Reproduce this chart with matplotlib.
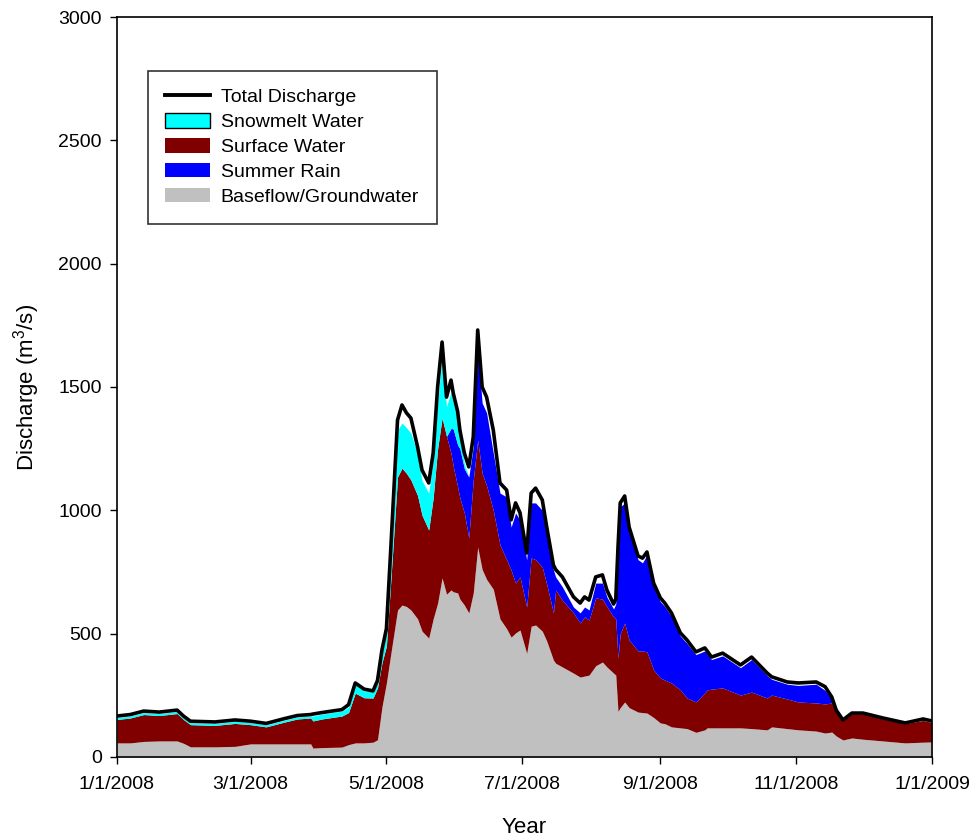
import matplotlib
matplotlib.use("Agg")
import matplotlib.pyplot as plt
from matplotlib.lines import Line2D
from matplotlib.patches import Patch
import numpy as np
import pandas as pd

plt.rcParams['font.family'] = ['Liberation Sans', 'DejaVu Sans']
plt.rcParams['mathtext.default'] = 'regular'

dates = ["2008-01-01","2008-01-07","2008-01-13","2008-01-20","2008-01-28","2008-01-31","2008-02-03","2008-02-14",
         "2008-02-23","2008-03-01","2008-03-08","2008-03-16","2008-03-22","2008-03-28","2008-03-29","2008-04-02",
         "2008-04-11","2008-04-14","2008-04-17","2008-04-21","2008-04-25","2008-04-27","2008-04-29","2008-05-01",
         "2008-05-03","2008-05-06","2008-05-08","2008-05-10","2008-05-12","2008-05-15","2008-05-17","2008-05-20",
         "2008-05-22","2008-05-24","2008-05-26","2008-05-28","2008-05-30","2008-05-31","2008-06-02","2008-06-03",
         "2008-06-05","2008-06-07","2008-06-09","2008-06-11","2008-06-13","2008-06-15","2008-06-18","2008-06-21",
         "2008-06-24","2008-06-26","2008-06-28","2008-06-30","2008-07-03","2008-07-05","2008-07-07","2008-07-10",
         "2008-07-12","2008-07-15","2008-07-16","2008-07-19","2008-07-24","2008-07-27","2008-07-29","2008-07-31",
         "2008-08-03","2008-08-06","2008-08-08","2008-08-11","2008-08-12","2008-08-13","2008-08-14","2008-08-16",
         "2008-08-18","2008-08-22","2008-08-24","2008-08-26","2008-08-29","2008-09-01","2008-09-03","2008-09-06",
         "2008-09-10","2008-09-13","2008-09-17","2008-09-21","2008-09-22","2008-09-24","2008-09-29","2008-10-07",
         "2008-10-12","2008-10-19","2008-10-21","2008-10-28","2008-11-02","2008-11-10","2008-11-14","2008-11-17",
         "2008-11-19","2008-11-22","2008-11-26","2008-12-01","2008-12-10","2008-12-20","2008-12-28","2009-01-01"]

total = [166,172,186,182,190,165,145,142,150,145,136,155,168,172,174,180,192,212,300,275,268,310,434,520,
         850,1366,1427,1395,1374,1257,1163,1111,1232,1500,1682,1459,1528,1476,1400,1325,1232,1176,1297,1731,
         1500,1459,1325,1111,1082,961,1030,990,827,1070,1090,1042,932,778,760,730,649,624,649,636,730,738,
         677,620,640,850,1030,1058,932,815,806,831,705,645,624,584,503,474,426,442,430,405,421,373,405,340,
         325,304,300,304,285,243,190,150,178,178,158,138,154,146]

baseflow = [57,57,63,65,65,55,41,41,43,53,53,53,53,53,36,38,40,50,57,57,60,70,203,300,
            420,596,616,610,596,560,510,482,560,624,726,660,677,670,665,640,616,584,665,851,
            760,720,680,560,520,486,503,515,420,530,535,510,470,393,380,365,340,324,328,332,370,385,
            365,340,332,185,200,223,200,182,180,178,160,138,135,122,118,115,100,110,118,118,118,118,115,110,
            122,115,110,105,97,101,85,69,77,72,65,57,60,61]

surface = [95,101,109,103,111,96,90,87,93,78,69,88,101,105,110,116,126,130,202,183,179,210,178,150,
           297,539,555,540,527,500,470,438,490,626,648,640,555,510,430,410,373,304,458,434,
           390,380,320,300,280,272,202,215,188,277,265,260,230,191,297,271,244,219,240,223,275,255,
           245,228,228,215,300,320,274,248,250,248,193,182,177,178,154,124,123,150,154,157,162,133,148,129,
           129,120,113,114,118,118,100,79,98,103,89,78,88,79]

rain = [0,0,0,0,0,0,0,0,0,0,0,0,0,0,0,0,0,0,0,0,0,0,0,0,
        0,0,0,0,0,0,0,0,0,0,0,0,100,150,170,200,180,247,134,365,
        285,295,232,210,254,174,284,231,191,223,230,230,208,174,53,54,24,41,40,41,60,65,
        39,32,60,430,514,487,436,370,357,393,337,310,298,270,218,221,192,170,148,120,130,111,132,91,
        64,60,67,76,55,16,0,0,0,0,0,0,0,0]

snowmelt = [8,8,8,8,8,8,8,8,8,8,8,8,8,8,20,20,20,22,33,28,26,20,39,60,
            113,190,183,185,190,170,140,150,150,185,248,120,148,110,105,50,20,0,0,0,
            0,0,0,0,0,0,0,0,0,0,0,0,0,0,0,0,0,0,0,0,0,0,
            0,0,0,0,0,0,0,0,0,0,0,0,0,0,0,0,0,0,0,0,0,0,0,0,
            0,0,0,0,0,0,0,0,0,0,0,0,0,0]

tick_dates = ["2008-01-01","2008-03-01","2008-05-01","2008-07-01","2008-09-01","2008-11-01","2009-01-01"]
tick_labels = ["1/1/2008","3/1/2008","5/1/2008","7/1/2008","9/1/2008","11/1/2008","1/1/2009"]
y_ticks = [0, 500, 1000, 1500, 2000, 2500, 3000]

series_names = ["Total Discharge", "Snowmelt Water", "Surface Water", "Summer Rain", "Baseflow/Groundwater"]
colors = {"snow": "#00FFFF", "surface": "#800000", "rain": "#0000FF", "base": "#C0C0C0"}

t = pd.to_datetime(dates)
b = np.array(baseflow, float)
s = np.array(surface, float)
r = np.array(rain, float)
m = np.array(snowmelt, float)

fig = plt.figure(figsize=(9.69, 8.38), dpi=100)
ax = fig.add_axes([0.1207, 0.0967, 0.8411, 0.8830])

l1 = b
l2 = l1 + s
l3 = l2 + r
l4 = l3 + m
ax.fill_between(t, 0, l1, color=colors["base"], linewidth=0)
ax.fill_between(t, l1, l2, color=colors["surface"], linewidth=0)
ax.fill_between(t, l2, l3, color=colors["rain"], linewidth=0)
ax.fill_between(t, l3, l4, color=colors["snow"], linewidth=0)
ax.plot(t, total, color="black", lw=2.6, solid_joinstyle="round")

ax.set_xlim(pd.Timestamp("2008-01-01"), pd.Timestamp("2009-01-01"))
ax.set_ylim(0, 3000)
ax.set_xticks(pd.to_datetime(tick_dates))
ax.set_xticklabels(tick_labels)
ax.set_yticks(y_ticks)
ax.tick_params(direction="out", length=5, width=1, labelsize=14, pad=6)
ax.tick_params(axis="x", pad=9)
for sp in ax.spines.values():
    sp.set_linewidth(1.2)

ax.set_xlabel("Year", fontsize=16, labelpad=17)
ax.set_ylabel("Discharge (m$^3$/s)", fontsize=16, labelpad=12)

handles = [Line2D([0], [0], color="black", lw=2.8),
           Patch(facecolor=colors["snow"], edgecolor="black", linewidth=1),
           Patch(facecolor=colors["surface"], edgecolor="none"),
           Patch(facecolor=colors["rain"], edgecolor="none"),
           Patch(facecolor=colors["base"], edgecolor="none")]
leg = ax.legend(handles, series_names, loc="upper left", bbox_to_anchor=(0.038, 0.927),
                borderaxespad=0, fontsize=14, frameon=True, fancybox=False,
                handlelength=2.3, handleheight=0.75, handletextpad=0.55, labelspacing=0.36,
                borderpad=0.9)
leg.get_frame().set_edgecolor("black")
leg.get_frame().set_linewidth(1.2)

fig.savefig("out.png", dpi=100)
